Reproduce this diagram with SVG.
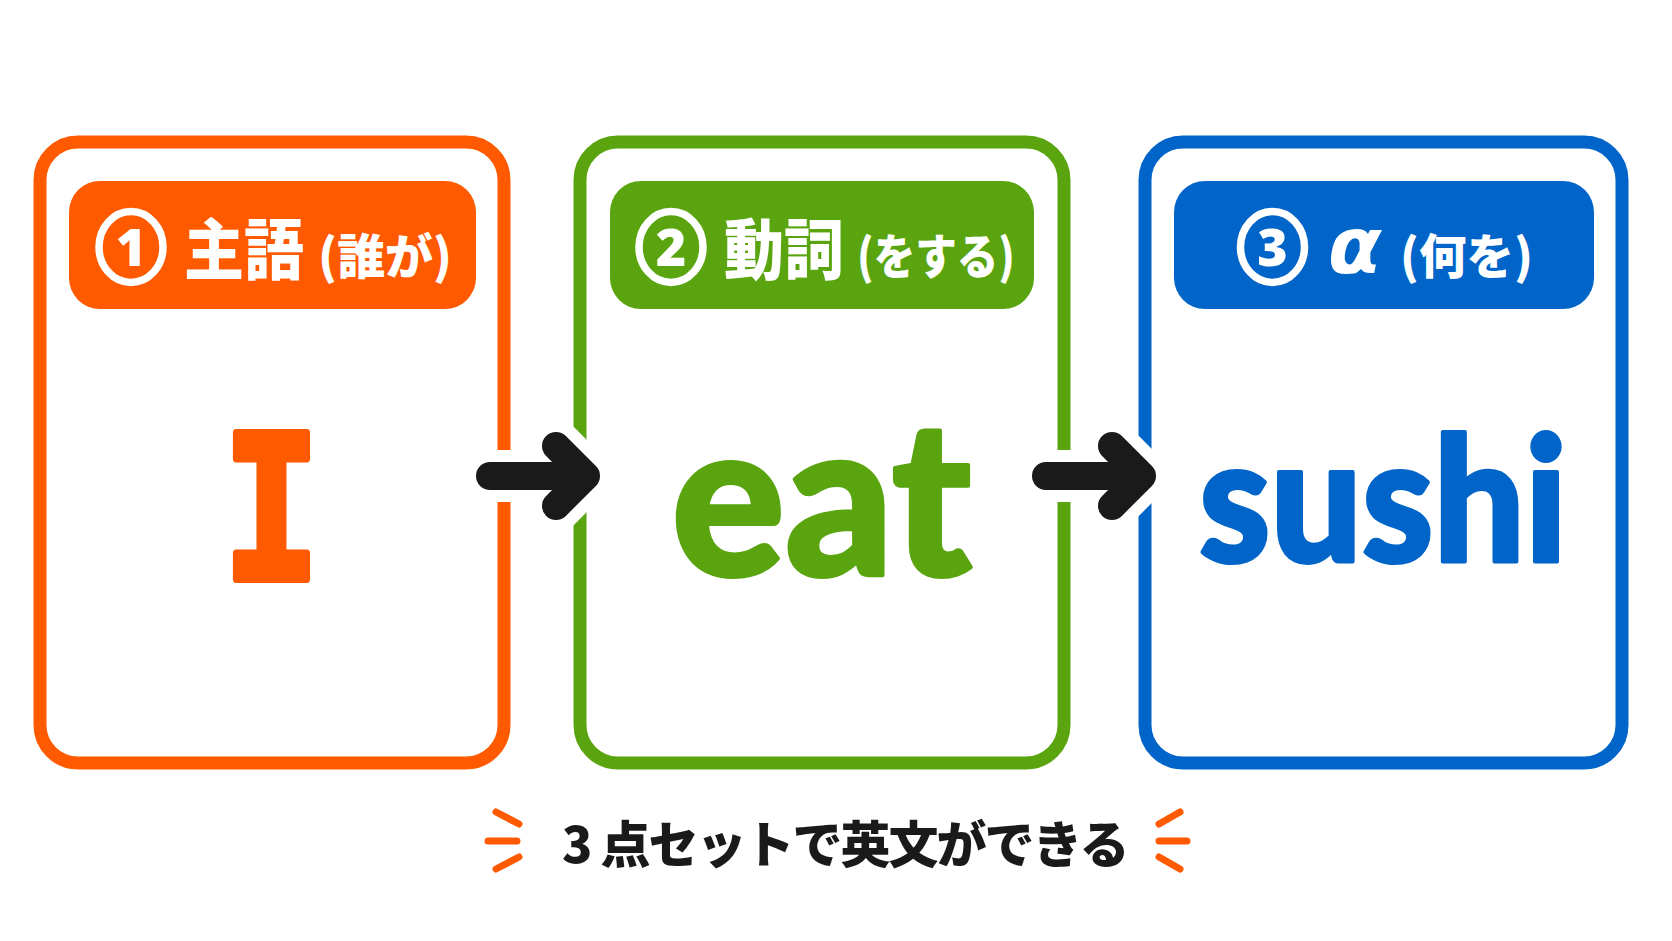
<svg xmlns="http://www.w3.org/2000/svg" width="1672" height="941" viewBox="0 0 1672 941">
<style>
.jp{font-family:'Noto Sans CJK JP','Noto Sans CJK SC',sans-serif;font-weight:900}
.hd{fill:#fff}
.num{font-family:'Noto Sans','Noto Sans CJK JP',sans-serif;font-weight:900;fill:#fff;font-size:52px;text-anchor:middle}
.frame{fill:#fff;stroke-width:13}
.ring{fill:none;stroke:#fff;stroke-width:7.5}
.big{font-family:Lato,'Noto Sans',sans-serif;font-weight:900;text-anchor:middle;stroke-width:4;stroke-linejoin:round}
.halo{fill:none;stroke:#fff;stroke-width:52;stroke-linecap:round;stroke-linejoin:round}
.arr{fill:none;stroke:#1a1a1a;stroke-width:28;stroke-linecap:round;stroke-linejoin:round}
.dash{fill:none;stroke:#ff5a00;stroke-width:7;stroke-linecap:round}
</style>
<rect width="1672" height="941" fill="#fff"/>
<g id="node-subject">
<rect class="frame" x="40" y="142" width="464" height="621" rx="38" stroke="#ff5a00"/>
<rect x="69" y="181" width="407" height="128" rx="31" fill="#ff5a00"/>
<ellipse class="ring" cx="131" cy="247" rx="32" ry="35.5"/>
<text class="num" x="131" y="266">1</text>
<text class="jp hd" x="184" y="274" font-size="66" textLength="120" lengthAdjust="spacingAndGlyphs">主語</text>
<text class="jp hd" x="318" y="274" font-size="48" textLength="134" lengthAdjust="spacingAndGlyphs">(誰が)</text>
<text x="271.5" y="579" font-family="'DejaVu Sans Mono',monospace" font-weight="bold" font-size="200" text-anchor="middle" textLength="98" lengthAdjust="spacingAndGlyphs" fill="#ff5a00" stroke="#ff5a00" stroke-width="8" stroke-linejoin="round">I</text>
</g>
<g id="node-verb">
<rect class="frame" x="580" y="142" width="484" height="621" rx="38" stroke="#5aa50f"/>
<rect x="610" y="181" width="424" height="128" rx="31" fill="#5aa50f"/>
<ellipse class="ring" cx="671" cy="247" rx="32" ry="35.5"/>
<text class="num" x="671" y="266">2</text>
<text class="jp hd" x="724" y="274" font-size="66" textLength="120" lengthAdjust="spacingAndGlyphs">動詞</text>
<text class="jp hd" x="857" y="274" font-size="48" textLength="158" lengthAdjust="spacingAndGlyphs">(をする)</text>
<text class="big" x="821.5" y="575" font-size="216" textLength="300" lengthAdjust="spacingAndGlyphs" fill="#5aa50f" stroke="#5aa50f">eat</text>
</g>
<g id="node-object">
<rect class="frame" x="1145" y="142" width="477" height="621" rx="38" stroke="#0064c8"/>
<rect x="1174" y="181" width="420" height="128" rx="31" fill="#0064c8"/>
<ellipse class="ring" cx="1272.5" cy="247" rx="32" ry="35.5"/>
<text class="num" x="1272.5" y="266">3</text>
<text x="1328" y="273" font-family="'DejaVu Sans',sans-serif" font-weight="bold" font-style="italic" font-size="78" fill="#fff">α</text>
<text class="jp hd" x="1400" y="274" font-size="48" textLength="133" lengthAdjust="spacingAndGlyphs">(何を)</text>
<text class="big" x="1383" y="562" font-size="174" textLength="368" lengthAdjust="spacingAndGlyphs" fill="#0064c8" stroke="#0064c8">sushi</text>
</g>
<g id="connectors">
<path class="halo" d="M490 476 H586 M556 446 L586 476 L556 506"/>
<path class="arr" d="M490 476 H586 M556 446 L586 476 L556 506"/>
<path class="halo" d="M1046 476 H1142 M1112 446 L1142 476 L1112 506"/>
<path class="arr" d="M1046 476 H1142 M1112 446 L1142 476 L1112 506"/>
</g>
<g id="tagline">
<path class="dash" d="M496 812 L519 824 M488 841 H517 M496 869 L519 857"/>
<path class="dash" d="M1180 812 L1159 824 M1159 841 H1187 M1180 869 L1159 857"/>
<text class="jp" x="562" y="863" font-size="50" letter-spacing="-2" fill="#1a1a1a">3<tspan dx="10">点セットで英文ができる</tspan></text>
</g>
</svg>
